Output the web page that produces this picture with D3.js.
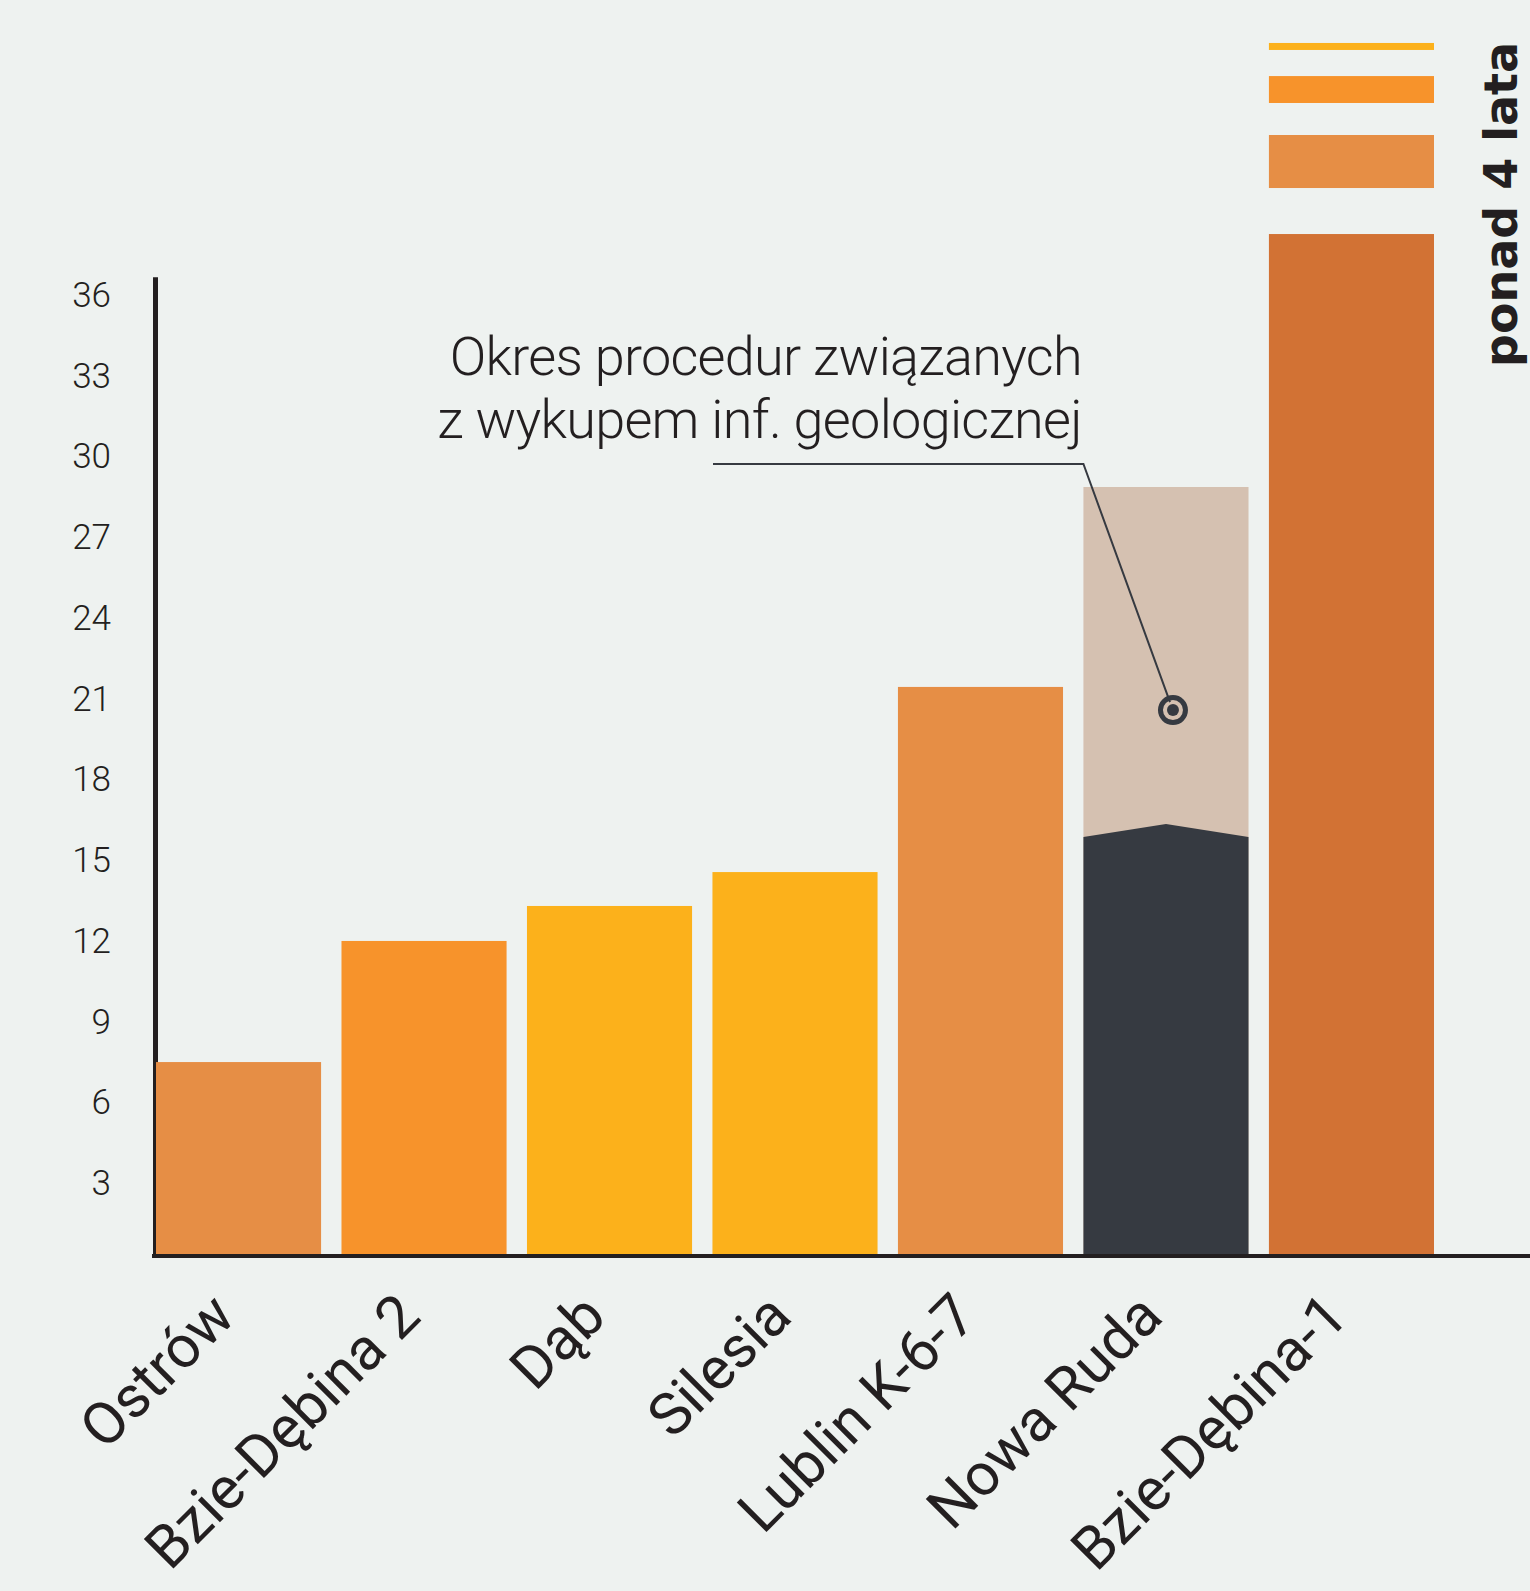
<!DOCTYPE html>
<html>
<head>
<meta charset="utf-8">
<script src="https://cdn.jsdelivr.net/npm/d3@7"></script>
<style>
  html, body { margin: 0; padding: 0; background: #eef2f0; }
  svg { display: block; }
  .tick text { font-family: Roboto, "Noto Sans", sans-serif; font-weight: 300; fill: #231f20; }
</style>
</head>
<body>
<div id="chart"></div>
<script>
// months per site
var sites = ["Ostrów", "Bzie-Dębina 2", "Dąb", "Silesia", "Lublin K-6-7", "Nowa Ruda", "Bzie-Dębina-1"];
var months = [7.17, 11.67, 12.97, 14.23, 21.11, 28.54, 37.94];
var colours = ["#e68e45", "#f7932b", "#fcb11b", "#fcb11b", "#e68e45", "#d5c1b1", "#d27234"];
var yTicks = [3, 6, 9, 12, 15, 18, 21, 24, 27, 30, 33, 36];

// Nowa Ruda: dark part under the geological-info period (edge, middle)
var darkPart = [15.53, 16.02];
// broken top of Bzie-Dębina-1 ("ponad 4 lata")
var brokenTop = [
  {from: 39.65, to: 41.62, colour: "#e68e45"},
  {from: 42.81, to: 43.81, colour: "#f7932b"},
  {from: 44.78, to: 45.04, colour: "#fcb11b"}
];
var notePoint = 20.25;

var width = 1530, height = 1591;
var baseY = 1255;

var svg = d3.select("#chart").append("svg")
  .attr("width", width)
  .attr("height", height);

svg.append("rect")
  .attr("width", width)
  .attr("height", height)
  .style("fill", "#eef2f0");

var y = d3.scaleLinear()
  .domain([0, 36])
  .range([baseY, baseY - 36 * 26.91]);

var x = d3.scaleBand()
  .domain(sites)
  .range([156, 1434])
  .paddingInner(0.11)
  .paddingOuter(0);

// y axis line
svg.append("line")
  .attr("x1", 155.5).attr("x2", 155.5)
  .attr("y1", y(36) - 9).attr("y2", baseY + 3)
  .style("stroke", "#231f20")
  .style("stroke-width", 5);

var yAxis = d3.axisLeft(y)
  .tickValues(yTicks)
  .tickSize(0)
  .tickPadding(0);

svg.append("g")
  .attr("class", "axis yAxis")
  .attr("transform", "translate(111,0)")
  .call(yAxis)
  .call(g => g.select(".domain").remove())
  .selectAll("text")
  .attr("y", 9)
  .style("font-size", "35px");

// bars
svg.selectAll("rect.bar")
  .data(sites)
  .enter()
  .append("rect")
  .attr("class", "bar")
  .attr("x", d => x(d))
  .attr("width", x.bandwidth())
  .attr("y", (d, i) => y(months[i]))
  .attr("height", (d, i) => baseY - y(months[i]))
  .style("fill", (d, i) => colours[i]);

// dark part of Nowa Ruda
var nr = "Nowa Ruda";
svg.append("path")
  .attr("d", d3.line()([
    [x(nr), baseY],
    [x(nr), y(darkPart[0])],
    [x(nr) + x.bandwidth() / 2, y(darkPart[1])],
    [x(nr) + x.bandwidth(), y(darkPart[0])],
    [x(nr) + x.bandwidth(), baseY]
  ]) + "Z")
  .style("fill", "#363a41");

// broken top pieces
var bd = "Bzie-Dębina-1";
svg.selectAll("rect.piece")
  .data(brokenTop)
  .enter()
  .append("rect")
  .attr("class", "piece")
  .attr("x", x(bd))
  .attr("width", x.bandwidth())
  .attr("y", d => y(d.to))
  .attr("height", d => y(d.from) - y(d.to))
  .style("fill", d => d.colour);

svg.append("text")
  .attr("transform", "translate(1517," + (y(months[6]) + 133) + ") rotate(-90)")
  .style("font-family", "'DejaVu Sans', sans-serif")
  .style("font-weight", "bold")
  .style("font-size", "46px")
  .style("fill", "#231f20")
  .text("ponad 4 lata");

// x axis line
svg.append("line")
  .attr("x1", 152).attr("x2", width)
  .attr("y1", baseY + 1).attr("y2", baseY + 1)
  .style("stroke", "#231f20")
  .style("stroke-width", 4);

// category labels
svg.selectAll("text.label")
  .data(sites)
  .enter()
  .append("text")
  .attr("class", "label")
  .attr("transform", d => "translate(" + (x(d) + x.bandwidth() / 2 - 1) + "," + (baseY + 64) + ") rotate(-45)")
  .style("text-anchor", "end")
  .style("font-family", "Roboto, 'Noto Sans', sans-serif")
  .style("font-size", "59px")
  .style("fill", "#231f20")
  .text(d => d);

// annotation
var noteRight = x(nr) - 1.5;
var note = svg.append("text")
  .style("font-family", "Roboto, 'Noto Sans', sans-serif")
  .style("font-weight", 300)
  .style("font-size", "54px")
  .style("letter-spacing", "-0.7px")
  .style("fill", "#231f20")
  .style("text-anchor", "end");
note.append("tspan").attr("x", noteRight).attr("y", 375).text("Okres procedur związanych");
note.append("tspan").attr("x", noteRight).attr("y", 438).text("z wykupem inf. geologicznej");

var px = x(nr) + x.bandwidth() / 2 + 7, py = y(notePoint);
svg.append("path")
  .attr("d", d3.line()([[713, 464], [x(nr), 464], [px - 3, py - 8]]))
  .style("fill", "none")
  .style("stroke", "#363a41")
  .style("stroke-width", 2);

svg.append("circle")
  .attr("cx", px).attr("cy", py).attr("r", 12.5)
  .style("fill", "none")
  .style("stroke", "#363a41")
  .style("stroke-width", 5);
svg.append("circle")
  .attr("cx", px).attr("cy", py).attr("r", 6)
  .style("fill", "#363a41");
</script>
</body>
</html>
